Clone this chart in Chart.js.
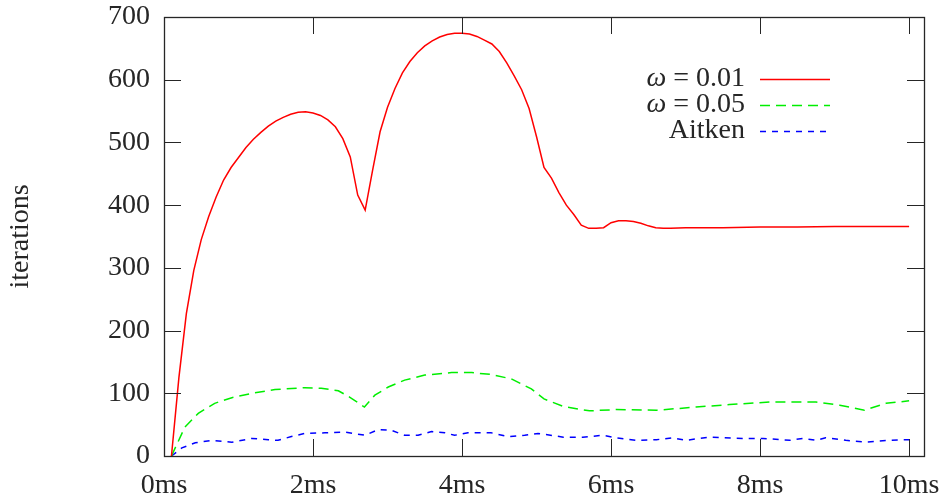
<!DOCTYPE html>
<html>
<head>
<meta charset="UTF-8">
<title>iterations</title>
<script src="https://cdn.jsdelivr.net/npm/chart.js"></script>
<style>
  html, body { margin: 0; padding: 0; background: #fff; }
</style>
</head>
<body>
<canvas id="chart" width="943" height="497"></canvas>
<script>
// series: time in ms -> iterations
var redMs = [0.1, 0.2, 0.3, 0.4, 0.5, 0.6, 0.7, 0.8, 0.9, 1.0, 1.1, 1.2, 1.3, 1.4, 1.5, 1.6, 1.7, 1.8, 1.9, 2.0,
             2.1, 2.2, 2.3, 2.4, 2.5, 2.6, 2.7, 2.8, 2.9, 3.0, 3.1, 3.2, 3.3, 3.4, 3.5, 3.6, 3.7, 3.8, 3.9, 4.0,
             4.1, 4.2, 4.3, 4.4, 4.5, 4.6, 4.7, 4.8, 4.9, 5.0, 5.1, 5.2, 5.3, 5.4, 5.5, 5.6, 5.7, 5.8, 5.9, 6.0,
             6.1, 6.2, 6.3, 6.4, 6.5, 6.6, 6.7, 6.8, 7.0, 7.5, 8.0, 8.5, 9.0, 9.5, 10.0];
var redIter = [0, 125, 227, 296, 345, 382, 413, 440, 460, 476, 492, 505, 516, 526, 534, 540, 545, 548, 549, 547,
               543, 536, 525, 506, 477, 416, 392, 456, 517, 556, 586, 611, 629, 643, 654, 662, 668, 672, 674, 674,
               673, 669, 663, 657, 645, 627, 606, 584, 554, 509, 460, 443, 420, 400, 385, 368, 363, 363, 364, 372,
               375, 375, 374, 371, 367, 364, 363, 363, 364, 364, 365, 365, 366, 366, 366];

var greenMs = [0.1, 0.28, 0.46, 0.68, 0.91, 1.18, 1.49, 1.89, 2.11, 2.34, 2.49, 2.69, 2.83, 3.01, 3.23, 3.5, 3.86,
               4.13, 4.39, 4.66, 4.93, 5.1, 5.36, 5.71, 6.07, 6.61, 7.14, 7.59, 8.13, 8.75, 9.07, 9.4, 9.69, 10.0];
var greenIter = [0, 46, 68, 84, 93, 100, 106, 109, 108, 104, 94, 78, 97, 110, 121, 129, 133,
                 133, 130, 123, 107, 91, 79, 72, 74, 73, 78, 82, 86, 86, 81, 73, 84, 88];

var blueMs = [0.1, 0.24, 0.42, 0.64, 0.91, 1.18, 1.4, 1.53, 1.71, 1.89, 2.16, 2.43, 2.7, 2.87, 3.05, 3.23, 3.41,
              3.59, 3.77, 3.9, 4.08, 4.39, 4.62, 4.84, 5.02, 5.36, 5.62, 5.89, 6.07, 6.34, 6.61, 6.83, 7.0, 7.32,
              7.5, 7.77, 8.04, 8.4, 8.57, 8.75, 8.88, 9.15, 9.42, 9.73, 10.0];
var blueIter = [0, 13, 21, 25, 22, 28, 26, 25, 31, 36, 37, 38, 33, 42, 41, 33, 33,
                39, 37, 33, 37, 37, 31, 33, 36, 30, 30, 33, 29, 25, 26, 29, 25, 30,
                29, 28, 28, 25, 28, 25, 29, 25, 22, 25, 26];

var seriesLabels = ['ω = 0.01', 'ω = 0.05', 'Aitken'];
var xTickValues = [0, 2, 4, 6, 8, 10];
var yTickValues = [0, 100, 200, 300, 400, 500, 600, 700];

var FONT = '"Liberation Serif", "DejaVu Serif", serif';
var INK = '#262626';

function pts(xs, ys) {
    return xs.map(function (x, i) { return { x: x, y: ys[i] }; });
}

// frame with inward, mirrored tick marks (gnuplot look)
var framePlugin = {
    id: 'frame',
    afterDraw: function (chart) {
        var ctx = chart.ctx, a = chart.chartArea;
        var xs = chart.scales.x, ys = chart.scales.y;
        var len = 17;
        ctx.save();
        ctx.strokeStyle = INK;
        ctx.lineWidth = 1;
        ctx.beginPath();
        xs.ticks.forEach(function (t) {
            var px = Math.round(xs.getPixelForValue(t.value)) + 0.5;
            ctx.moveTo(px, a.bottom); ctx.lineTo(px, a.bottom - len);
            ctx.moveTo(px, a.top); ctx.lineTo(px, a.top + len);
        });
        ys.ticks.forEach(function (t) {
            var py = Math.round(ys.getPixelForValue(t.value)) + 0.5;
            ctx.moveTo(a.left, py); ctx.lineTo(a.left + len, py);
            ctx.moveTo(a.right, py); ctx.lineTo(a.right - len, py);
        });
        ctx.stroke();
        ctx.lineWidth = 1.3;
        ctx.strokeRect(Math.round(a.left) + 0.5, Math.round(a.top) + 0.5,
                       Math.round(a.right - a.left), Math.round(a.bottom - a.top));
        ctx.restore();
    }
};

// key in the upper right: right-aligned text, line sample after it
var keyPlugin = {
    id: 'key',
    afterDraw: function (chart) {
        var ctx = chart.ctx;
        var textRight = 745, lineFrom = 760, lineTo = 830, rowY = 79, gap = 26;
        ctx.save();
        ctx.textBaseline = 'middle';
        ctx.textAlign = 'right';
        chart.data.datasets.forEach(function (ds, i) {
            var y = rowY + i * gap;
            var label = ds.label;
            ctx.fillStyle = INK;
            if (label.charAt(0) === 'ω') {
                var rest = label.slice(1);
                ctx.font = '28px ' + FONT;
                ctx.fillText(rest, textRight, y);
                var w = ctx.measureText(rest).width;
                ctx.font = 'italic 28px ' + FONT;
                ctx.fillText('ω', textRight - w, y);
            } else {
                ctx.font = '28px ' + FONT;
                ctx.fillText(label, textRight, y);
            }
            ctx.strokeStyle = ds.borderColor;
            ctx.lineWidth = ds.borderWidth;
            ctx.setLineDash(ds.borderDash || []);
            ctx.beginPath();
            ctx.moveTo(lineFrom, Math.round(y) + 0.5);
            ctx.lineTo(lineTo, Math.round(y) + 0.5);
            ctx.stroke();
        });
        ctx.restore();
    }
};

new Chart(document.getElementById('chart'), {
    type: 'line',
    data: {
        datasets: [
            { label: seriesLabels[0], data: pts(redMs, redIter), borderColor: '#ff0000', borderWidth: 1.5 },
            { label: seriesLabels[1], data: pts(greenMs, greenIter), borderColor: '#00ee00', borderWidth: 1.5, borderDash: [10, 6] },
            { label: seriesLabels[2], data: pts(blueMs, blueIter), borderColor: '#0000ff', borderWidth: 1.5, borderDash: [6, 6] }
        ]
    },
    options: {
        responsive: false,
        animation: false,
        layout: { padding: { top: 17, right: 19, left: 0, bottom: 0 } },
        elements: { point: { radius: 0 }, line: { tension: 0, fill: false } },
        plugins: { legend: { display: false }, tooltip: { enabled: false } },
        scales: {
            x: {
                type: 'linear',
                min: 0,
                max: 10.2,
                grid: { display: false, drawTicks: false },
                border: { display: false },
                afterBuildTicks: function (s) {
                    s.ticks = xTickValues.map(function (v) { return { value: v }; });
                },
                afterFit: function (s) {
                    s.height = 41;
                    s.paddingLeft = 0;
                    s.paddingRight = 0;
                },
                ticks: {
                    padding: 13,
                    color: INK,
                    maxRotation: 0,
                    font: { family: FONT, size: 28 },
                    callback: function (v) { return v + 'ms'; }
                }
            },
            y: {
                min: 0,
                max: 700,
                grid: { display: false, drawTicks: false },
                border: { display: false },
                afterBuildTicks: function (s) {
                    s.ticks = yTickValues.map(function (v) { return { value: v }; });
                },
                afterFit: function (s) {
                    s.width = 164;
                    s.paddingTop = 0;
                    s.paddingBottom = 0;
                },
                ticks: {
                    padding: 14,
                    color: INK,
                    font: { family: FONT, size: 28 }
                },
                title: {
                    display: true,
                    text: 'iterations',
                    color: INK,
                    padding: { top: 4, bottom: 0 },
                    font: { family: FONT, size: 28 }
                }
            }
        }
    },
    plugins: [framePlugin, keyPlugin]
});
</script>
</body>
</html>
